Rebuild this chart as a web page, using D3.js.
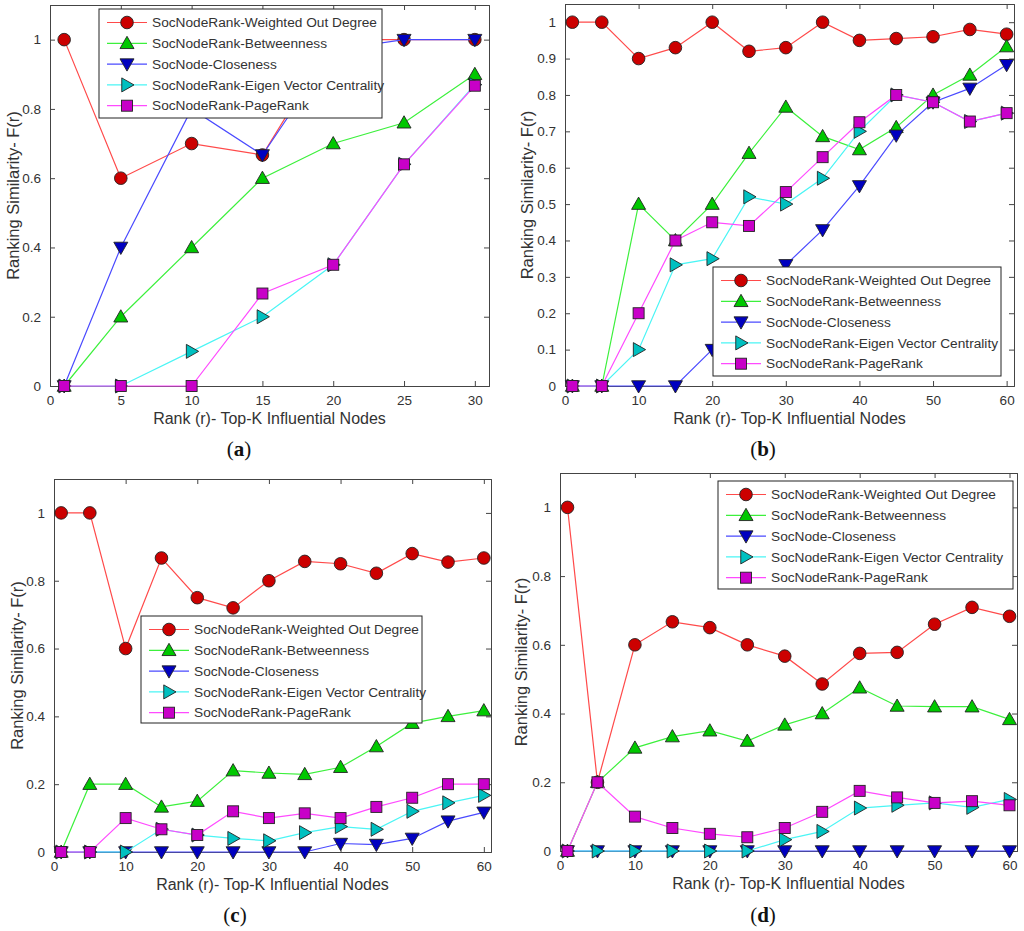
<!DOCTYPE html>
<html lang="en">
<head>
  <meta charset="UTF-8">
  <title>Ranking Similarity</title>
  <style>
    body { margin: 0; background: #fff; }
  </style>
</head>
<body>
  <svg></svg>
  <script src="https://cdn.jsdelivr.net/npm/d3@7/dist/d3.min.js"></script>
  <script>
    // series names (legend text)
    var seriesNames = [
      "SocNodeRank-Weighted Out Degree",
      "SocNodeRank-Betweenness",
      "SocNode-Closeness",
      "SocNodeRank-Eigen Vector Centrality",
      "SocNodeRank-PageRank"
    ];

    // x values (rank r)
    var ranksA = [1, 5, 10, 15, 20, 25, 30];
    var ranks60 = [1, 5, 10, 15, 20, 25, 30, 35, 40, 45, 50, 55, 60];

    // panel (a)
    var aOutDegree = [1, 0.6, 0.7, 0.667, 1, 1, 1];
    var aBetweenness = [0, 0.2, 0.4, 0.6, 0.7, 0.76, 0.9];
    var aCloseness = [0, 0.4, 0.8, 0.667, 0.97, 1, 1];
    var aEigen = [0, 0, 0.1, 0.2, 0.35, 0.64, 0.87];
    var aPageRank = [0, 0, 0, 0.267, 0.35, 0.64, 0.867];

    // panel (b)
    var bOutDegree = [1, 1, 0.9, 0.93, 1, 0.92, 0.93, 1, 0.95, 0.955, 0.96, 0.98, 0.967];
    var bBetweenness = [0, 0, 0.5, 0.4, 0.5, 0.64, 0.767, 0.686, 0.65, 0.711, 0.8, 0.855, 0.933];
    var bCloseness = [0, 0, 0, 0, 0.1, 0.2, 0.333, 0.429, 0.55, 0.689, 0.78, 0.818, 0.883];
    var bEigen = [0, 0, 0.1, 0.333, 0.35, 0.52, 0.5, 0.571, 0.7, 0.8, 0.78, 0.727, 0.75];
    var bPageRank = [0, 0, 0.2, 0.4, 0.45, 0.44, 0.533, 0.629, 0.725, 0.8, 0.78, 0.727, 0.75];

    // panel (c)
    var cOutDegree = [1, 1, 0.6, 0.867, 0.75, 0.72, 0.8, 0.857, 0.85, 0.822, 0.88, 0.855, 0.867];
    var cBetweenness = [0, 0.2, 0.2, 0.133, 0.15, 0.24, 0.233, 0.229, 0.25, 0.311, 0.38, 0.4, 0.417];
    var cCloseness = [0, 0, 0, 0, 0, 0, 0, 0, 0.025, 0.022, 0.04, 0.091, 0.117];
    var cEigen = [0, 0, 0, 0.067, 0.05, 0.04, 0.033, 0.057, 0.075, 0.067, 0.12, 0.145, 0.167];
    var cPageRank = [0, 0, 0.1, 0.067, 0.05, 0.12, 0.1, 0.114, 0.1, 0.133, 0.16, 0.2, 0.2];

    // panel (d)
    var dOutDegree = [1, 0.2, 0.6, 0.667, 0.65, 0.6, 0.567, 0.486, 0.575, 0.578, 0.66, 0.709, 0.683];
    var dBetweenness = [0, 0.2, 0.3, 0.333, 0.35, 0.32, 0.367, 0.4, 0.475, 0.422, 0.42, 0.42, 0.383];
    var dCloseness = [0, 0, 0, 0, 0, 0, 0, 0, 0, 0, 0, 0, 0];
    var dEigen = [0, 0, 0, 0, 0, 0, 0.033, 0.057, 0.125, 0.133, 0.14, 0.127, 0.15];
    var dPageRank = [0, 0.2, 0.1, 0.067, 0.05, 0.04, 0.067, 0.114, 0.175, 0.156, 0.14, 0.145, 0.133];

    // ticks
    var xTicksA = [0, 5, 10, 15, 20, 25, 30];
    var xTicks60 = [0, 10, 20, 30, 40, 50, 60];
    var yTicks02 = [0, 0.2, 0.4, 0.6, 0.8, 1];
    var yTicks01 = [0, 0.1, 0.2, 0.3, 0.4, 0.5, 0.6, 0.7, 0.8, 0.9, 1];

    var lineColors = ["#ff4a4a", "#3cf03c", "#4a4aff", "#4af5f5", "#ff4aff"];
    var fillColors = ["#cc0000", "#00c800", "#0000c0", "#00c0c0", "#c800c8"];
    var shapes = ["circle", "triUp", "triDown", "triRight", "square"];

    var sans = "'Liberation Sans', Arial, sans-serif";
    var serif = "'Liberation Serif', 'Times New Roman', serif";

    var svg = d3.select("svg").attr("width", 1024).attr("height", 931);

    // layout of the four panels
    var panels = [
      { label: "a", x: ranksA, series: [aOutDegree, aBetweenness, aCloseness, aEigen, aPageRank],
        xDomain: [0, 31], xTicks: xTicksA, yTicks: yTicks02, yMax: 1.1,
        box: [50, 5, 489, 386], legend: [99, 9, 283, 109], yTitleX: 13, labelX: 239, labelY: 456 },
      { label: "b", x: ranks60, series: [bOutDegree, bBetweenness, bCloseness, bEigen, bPageRank],
        xDomain: [0, 61], xTicks: xTicks60, yTicks: yTicks01, yMax: 1.05,
        box: [565, 4, 1014, 386], legend: [713, 267, 288, 109], yTitleX: 527, labelX: 763, labelY: 456 },
      { label: "c", x: ranks60, series: [cOutDegree, cBetweenness, cCloseness, cEigen, cPageRank],
        xDomain: [0, 61], xTicks: xTicks60, yTicks: yTicks02, yMax: 1.1,
        box: [54, 479, 491, 852], legend: [141, 616, 281, 107], yTitleX: 17, labelX: 235, labelY: 922 },
      { label: "d", x: ranks60, series: [dOutDegree, dBetweenness, dCloseness, dEigen, dPageRank],
        xDomain: [0, 61], xTicks: xTicks60, yTicks: yTicks02, yMax: 1.1,
        box: [560, 473, 1017, 851], legend: [718, 481, 295, 108], yTitleX: 521, labelX: 763, labelY: 922 }
    ];

    function marker(g, shape, cx, cy, fill) {
      var p;
      if (shape === "circle") {
        g.append("circle").attr("cx", cx).attr("cy", cy).attr("r", 6.3)
          .attr("fill", fill).attr("stroke", "#222").attr("stroke-width", 0.9);
        return;
      }
      if (shape === "square") {
        g.append("rect").attr("x", cx - 5.5).attr("y", cy - 5.5).attr("width", 11).attr("height", 11)
          .attr("fill", fill).attr("stroke", "#222").attr("stroke-width", 0.9);
        return;
      }
      var s = 7;
      if (shape === "triUp") p = [[cx, cy - s], [cx + s, cy + s * 0.75], [cx - s, cy + s * 0.75]];
      if (shape === "triDown") p = [[cx, cy + s], [cx + s, cy - s * 0.75], [cx - s, cy - s * 0.75]];
      if (shape === "triRight") p = [[cx + s, cy], [cx - s * 0.75, cy - s], [cx - s * 0.75, cy + s]];
      g.append("path").attr("d", "M" + p.join("L") + "Z")
        .attr("fill", fill).attr("stroke", "#222").attr("stroke-width", 0.9);
    }

    panels.forEach(function (pn) {
      var b = pn.box;
      var x = d3.scaleLinear().domain(pn.xDomain).range([b[0], b[2]]);
      var y = d3.scaleLinear().domain([0, pn.yMax]).range([b[3], b[1]]);
      var g = svg.append("g");

      // axes with inward ticks
      g.append("g").attr("transform", "translate(0," + b[3] + ")")
        .call(d3.axisBottom(x).tickValues(pn.xTicks).tickSize(-5).tickPadding(9).tickFormat(d3.format("d")));
      g.append("g").attr("transform", "translate(0," + b[1] + ")")
        .call(d3.axisTop(x).tickValues(pn.xTicks).tickSize(-5).tickFormat(""));
      g.append("g").attr("transform", "translate(" + b[0] + ",0)")
        .call(d3.axisLeft(y).tickValues(pn.yTicks).tickSize(-5).tickPadding(9).tickFormat(function (d) { return d3.format("")(+d.toFixed(1)); }));
      g.append("g").attr("transform", "translate(" + b[2] + ",0)")
        .call(d3.axisRight(y).tickValues(pn.yTicks).tickSize(-5).tickFormat(""));
      g.selectAll(".domain").attr("stroke", "#444");
      g.selectAll(".tick line").attr("stroke", "#444");
      g.selectAll(".tick text").attr("fill", "#333").style("font-size", "13.5px")
        .style("font-family", sans);

      // series
      pn.series.forEach(function (vals, si) {
        var pts = vals.map(function (v, i) { return [pn.x[i], v]; });
        g.append("path").datum(pts)
          .attr("fill", "none").attr("stroke", lineColors[si]).attr("stroke-width", 1.2)
          .attr("d", d3.line().x(function (d) { return x(d[0]); }).y(function (d) { return y(d[1]); }));
        pts.forEach(function (d) { marker(g, shapes[si], x(d[0]), y(d[1]), fillColors[si]); });
      });

      // titles
      g.append("text").attr("x", (b[0] + b[2]) / 2).attr("y", b[3] + 38)
        .attr("text-anchor", "middle").style("font-size", "16px").style("font-family", sans).attr("fill", "#333")
        .text("Rank (r)- Top-K Influential Nodes");
      g.append("text").attr("transform", "translate(" + pn.yTitleX + "," + (b[1] + b[3]) / 2 + ") rotate(-90)")
        .attr("text-anchor", "middle").attr("dy", "0.35em").style("font-size", "16.5px").style("font-family", sans)
        .attr("fill", "#333")
        .text("Ranking Similarity- F(r)");
      var lab = g.append("text").attr("x", pn.labelX).attr("y", pn.labelY)
        .attr("text-anchor", "middle").style("font-size", "21px").style("font-family", serif).attr("fill", "#111");
      lab.append("tspan").text("(");
      lab.append("tspan").style("font-weight", "bold").text(pn.label);
      lab.append("tspan").text(")");

      // legend
      var L = pn.legend;
      var lg = g.append("g").attr("transform", "translate(" + L[0] + "," + L[1] + ")");
      lg.append("rect").attr("width", L[2]).attr("height", L[3])
        .attr("fill", "#fff").attr("stroke", "#222").attr("stroke-width", 1);
      seriesNames.forEach(function (name, si) {
        var ry = 13.5 + si * 20.8;
        lg.append("line").attr("x1", 8).attr("x2", 48).attr("y1", ry).attr("y2", ry)
          .attr("stroke", lineColors[si]).attr("stroke-width", 1.2);
        marker(lg, shapes[si], 28, ry, fillColors[si]);
        lg.append("text").attr("x", 53).attr("y", ry).attr("dy", "0.35em")
          .style("font-size", "13.7px").style("font-family", sans).attr("fill", "#333").text(name);
      });
    });
  </script>
</body>
</html>
